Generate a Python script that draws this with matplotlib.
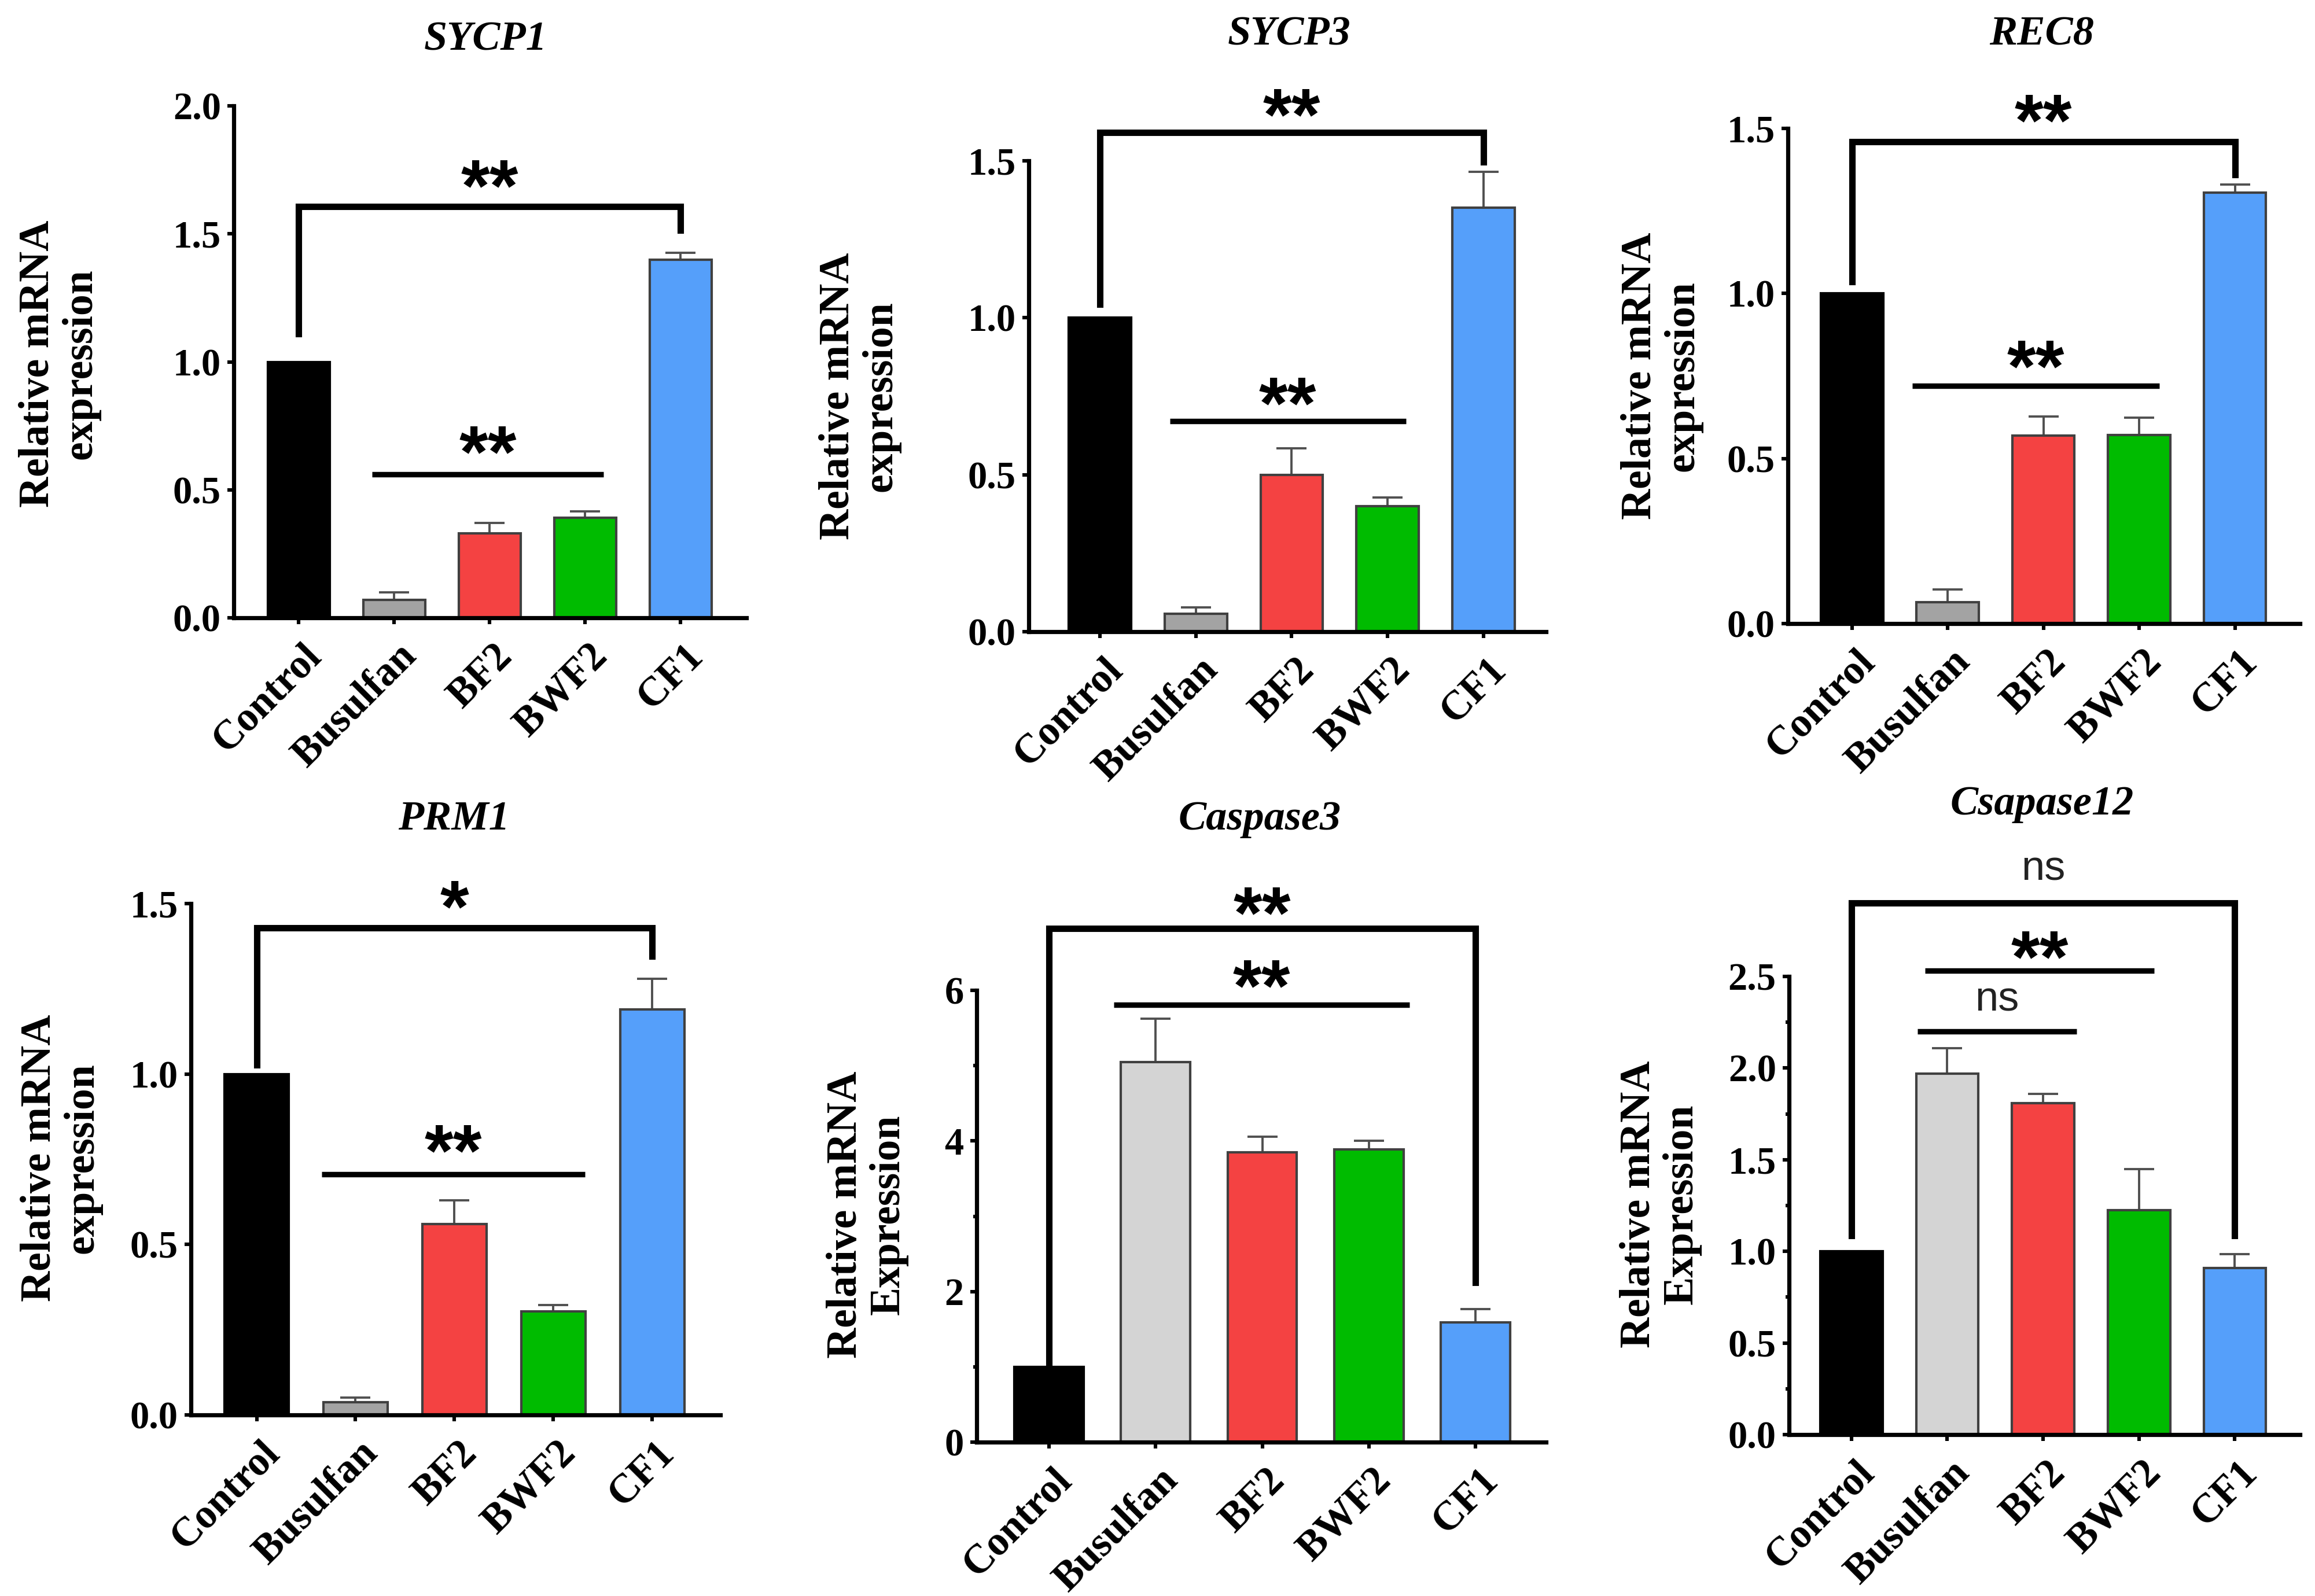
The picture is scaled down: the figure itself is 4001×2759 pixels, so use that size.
import numpy as np
import matplotlib
matplotlib.use('Agg')
import matplotlib.pyplot as plt
from matplotlib.transforms import offset_copy, ScaledTranslation
from matplotlib.ticker import MultipleLocator, FormatStrFormatter

# data
groups = ['Control', 'Busulfan', 'BF2', 'BWF2', 'CF1']

sycp1_mean = [1.0, 0.07, 0.33, 0.39, 1.40]
sycp1_err = [0, 0.03, 0.04, 0.025, 0.025]
sycp3_mean = [1.0, 0.057, 0.50, 0.40, 1.35]
sycp3_err = [0, 0.02, 0.085, 0.027, 0.115]
rec8_mean = [1.0, 0.065, 0.57, 0.572, 1.305]
rec8_err = [0, 0.038, 0.057, 0.052, 0.025]
prm1_mean = [1.0, 0.037, 0.56, 0.303, 1.19]
prm1_err = [0, 0.014, 0.07, 0.019, 0.09]
casp3_mean = [1.0, 5.05, 3.85, 3.89, 1.59]
casp3_err = [0, 0.57, 0.21, 0.11, 0.18]
casp12_mean = [1.0, 1.97, 1.81, 1.225, 0.91]
casp12_err = [0, 0.14, 0.05, 0.225, 0.075]

# significance marks: (x left, x right, top, left leg end, right leg end, label, label y)
sycp1_brackets = [(0, 4, 1.606, 1.11, 1.515, '**', 1.74)]
sycp3_brackets = [(0, 4, 1.59, 1.043, 1.496, '**', 1.69)]
rec8_brackets = [(0, 4, 1.459, 1.036, 1.36, '**', 1.565)]
prm1_brackets = [(0, 4, 1.429, 1.027, 1.345, '*', 1.53)]
casp3_brackets = [(0, 4, 6.82, 1.06, 2.12, '**', 7.21)]
casp12_brackets = [(0, 4, 2.90, 1.086, 1.086, 'ns', 3.085)]
# (x start, x end, y, label, label y)
sycp1_lines = [(0.77, 3.19, 0.56, '**', 0.70)]
sycp3_lines = [(0.73, 3.19, 0.67, '**', 0.77)]
rec8_lines = [(0.63, 3.21, 0.72, '**', 0.82)]
prm1_lines = [(0.66, 3.32, 0.706, '**', 0.815)]
casp3_lines = [(0.61, 3.38, 5.81, '**', 6.24)]
casp12_lines = [(0.77, 3.16, 2.53, '**', 2.68), (0.69, 2.35, 2.20, 'ns', 2.37)]

colors_dark = ['#000000', '#a3a3a3', '#f44242', '#00bb00', '#559ffa']
colors_light = ['#000000', '#d4d4d4', '#f44242', '#00bb00', '#559ffa']

W, H = 4001, 2759
DPI = 200
fig = plt.figure(figsize=(W / DPI, H / DPI), dpi=DPI)

SERIF = 'Liberation Serif'
SANS = 'Liberation Sans'

# panel: title, ylabel, mean, err, colors, brackets, lines,
#   box px (left, right, y0, ytop), ylim top, xlim, tick step, minor step,
#   title px, ylabel px
panels = [
    ('SYCP1', 'Relative mRNA\nexpression', sycp1_mean, sycp1_err, colors_dark,
     sycp1_brackets, sycp1_lines, (404, 1290, 1068, 183), 2.0, (-0.68, 4.69),
     0.5, None, (839, 69), (103, 629)),
    ('SYCP3', 'Relative mRNA\nexpression', sycp3_mean, sycp3_err, colors_dark,
     sycp3_brackets, sycp3_lines, (1778, 2672, 1092, 278), 1.5, (-0.74, 4.65),
     0.5, None, (2228, 60), (1486, 685)),
    ('REC8', 'Relative mRNA\nexpression', rec8_mean, rec8_err, colors_dark,
     rec8_brackets, rec8_lines, (3090, 3975, 1078, 222), 1.5, (-0.67, 4.68),
     0.5, None, (3529, 60), (2872, 650)),
    ('PRM1', 'Relative mRNA\nexpression', prm1_mean, prm1_err, colors_dark,
     prm1_brackets, prm1_lines, (330, 1245, 2446, 1562), 1.5, (-0.665, 4.69),
     0.5, None, (784, 1417), (106, 2002)),
    ('Caspase3', 'Relative mRNA\nExpression', casp3_mean, casp3_err, colors_light,
     casp3_brackets, casp3_lines, (1688, 2672, 2493, 1712), 6, (-0.677, 4.66),
     2, 1, (2177, 1417), (1499, 2100)),
    ('Csapase12', 'Relative mRNA\nExpression', casp12_mean, casp12_err, colors_light,
     casp12_brackets, casp12_lines, (3092, 3975, 2480, 1688), 2.5, (-0.65, 4.68),
     0.5, 0.25, (3529, 1390), (2870, 2082)),
]

STAR_FS = 46
NS_FS = 26


def sig_label(ax, x, y, label):
    # place so that the ink centre of the label sits at y
    if label == 'ns':
        fs, fam, wt, shift, col = NS_FS, SANS, 'normal', -0.26 * NS_FS, '#222222'
    else:
        fs, fam, wt, shift, col = STAR_FS, SANS, 'bold', -0.52 * STAR_FS, 'black'
    tr = offset_copy(ax.transData, fig=fig, y=shift, units='points')
    ax.text(x, y, label, transform=tr, ha='center', va='baseline',
            fontsize=fs, family=fam, fontweight=wt, color=col, clip_on=False)


for (title, ylab, mean, err, cols, brackets, lines, box, ytop, xlim,
     step, minor, tpos, ylpos) in panels:
    left, right, y0, top = box
    ax = fig.add_axes([left / W, 1 - y0 / H, (right - left) / W, (y0 - top) / H])
    x = np.arange(len(groups))
    ax.errorbar(x, mean, yerr=[np.zeros(len(err)), err], fmt='none',
                ecolor='#505050', elinewidth=1.4, capsize=9.5, capthick=1.4,
                zorder=1)
    ax.bar(x, mean, width=0.65, color=cols,
           edgecolor=['black'] + ['#404040'] * 4, linewidth=1.5, zorder=2)

    for (xa, xb, yt, la, lb, lab, ly) in brackets:
        ax.plot([xa, xa, xb, xb], [la, yt, yt, lb], color='black', lw=4,
                solid_joinstyle='miter', clip_on=False, zorder=3)
        sig_label(ax, (xa + xb) / 2, ly, lab)
    for (xa, xb, yl, lab, ly) in lines:
        ax.plot([xa, xb], [yl, yl], color='black', lw=3.4, clip_on=False,
                solid_capstyle='butt', zorder=3)
        sig_label(ax, (xa + xb) / 2, ly, lab)

    ax.set_xlim(*xlim)
    ax.set_ylim(0, ytop)
    for s in ['top', 'right']:
        ax.spines[s].set_visible(False)
    for s in ['left', 'bottom']:
        ax.spines[s].set_linewidth(2.6)
    ax.yaxis.set_major_locator(MultipleLocator(step))
    if step < 1:
        ax.yaxis.set_major_formatter(FormatStrFormatter('%.1f'))
    else:
        ax.yaxis.set_major_formatter(FormatStrFormatter('%d'))
    if minor:
        ax.yaxis.set_minor_locator(MultipleLocator(minor))
        ax.tick_params(axis='y', which='minor', length=2.0, width=2.2)
    ax.tick_params(axis='both', which='major', length=4, width=2.2,
                   direction='out')
    ax.tick_params(axis='y', pad=4)
    ax.set_xticks(x)
    ax.set_xticklabels(groups, rotation=45, ha='right', va='top',
                       rotation_mode='anchor')
    ax.tick_params(axis='x', pad=8)
    for lbl in ax.get_yticklabels():
        lbl.set_fontfamily(SERIF)
        lbl.set_fontweight('bold')
        lbl.set_fontsize(24)
    for lbl in ax.get_xticklabels():
        lbl.set_fontfamily(SERIF)
        lbl.set_fontweight('bold')
        lbl.set_fontsize(25.5)
        lbl.set_transform(lbl.get_transform() +
                          ScaledTranslation(0.03, 0, fig.dpi_scale_trans))

    fig.text(tpos[0] / W, 1 - tpos[1] / H, title, ha='center', va='center',
             family=SERIF, fontweight='bold', fontstyle='italic', fontsize=26)
    fig.text(ylpos[0] / W, 1 - ylpos[1] / H, ylab, ha='center', va='center',
             rotation=90, family=SERIF, fontweight='bold', fontsize=26.5,
             linespacing=1.1)

fig.savefig('out.png', dpi=DPI, facecolor='white')
